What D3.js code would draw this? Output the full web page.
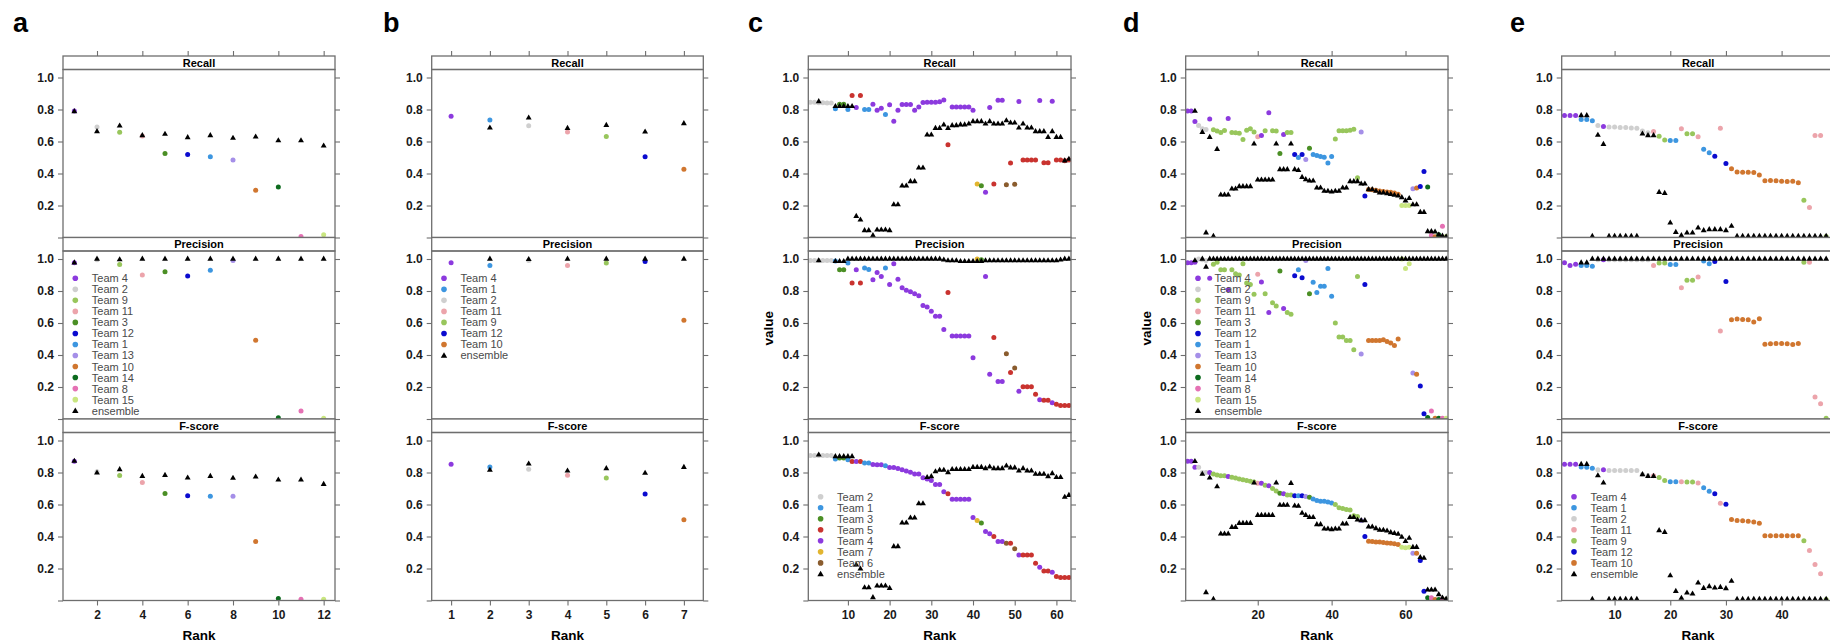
<!DOCTYPE html>
<html>
<head>
<meta charset="utf-8">
<script src="https://cdn.jsdelivr.net/npm/d3@7"></script>
<style>
  body { margin: 0; background: #fff; }
  text { font-family: "Liberation Sans", Arial, Helvetica, sans-serif; }
</style>
</head>
<body>
<script>
// ---- panel a ----
var aTeam = [4, 2, 9, 11, 3, 12, 1, 13, 10, 14, 8, 15]
var aRecall = [0.79, 0.69, 0.658, 0.635, 0.525, 0.519, 0.504, 0.485, 0.296, 0.315, 0.006, 0.017]
var aPrecision = [0.977, 0.995, 0.965, 0.90, 0.921, 0.894, 0.929, 0.99, 0.492, 0.008, 0.05, 0.004]
var aFscore = [0.871, 0.805, 0.781, 0.7375, 0.669, 0.654, 0.652, 0.652, 0.369, 0.0125, 0.008, 0.008]
var aEnsRecall = [0.7875, 0.6625, 0.698, 0.6375, 0.646, 0.625, 0.6375, 0.621, 0.629, 0.606, 0.606, 0.573]
var aEnsPrecision = [0.977, 1, 0.996, 1, 1, 1, 1, 1, 1, 1, 1, 1]
var aEnsFscore = [0.871, 0.798, 0.819, 0.777, 0.783, 0.767, 0.777, 0.765, 0.773, 0.754, 0.754, 0.727]
var aLegend = [4, 2, 9, 11, 3, 12, 1, 13, 10, 14, 8, 15]
var aTicks = [2, 4, 6, 8, 10, 12]

// ---- panel b ----
var bTeam = [4, 1, 2, 11, 9, 12, 10]
var bRecall = [0.758, 0.735, 0.698, 0.66, 0.631, 0.504, 0.427]
var bPrecision = [0.977, 0.96, 0.99, 0.96, 0.975, 0.985, 0.617]
var bFscore = [0.852, 0.835, 0.821, 0.783, 0.765, 0.665, 0.504]
var bEnsRecall = [null, 0.685, 0.748, 0.683, 0.702, 0.66, 0.7125]
var bEnsPrecision = [null, 1, 0.998, 1, 1, 1, 1]
var bEnsFscore = [null, 0.815, 0.854, 0.81, 0.825, 0.796, 0.833]
var bLegend = [4, 1, 2, 11, 9, 12, 10]
var bTicks = [1, 2, 3, 4, 5, 6, 7]

// ---- panel c ----
var cTeam = [2, 2, 2, 2, 2, 2, 1, 3, 3, 1, 5, 4, 5, 1, 1, 4, 4, 4, 1, 4,
  4, 4, 4, 4, 4, 4, 4, 4, 4, 4, 4, 4, 4, 5, 4, 4, 4, 4, 4, 4,
  7, 3, 4, 4, 5, 4, 4, 6, 5, 6, 4, 5, 5, 5, 5, 4, 5, 5, 4, 5,
  5, 5, 5]
var cRecall = [0.845, 0.845, 0.842, 0.842, 0.84, 0.84, 0.805, 0.833, 0.833, 0.80,
  0.888, 0.813, 0.888, 0.80, 0.80, 0.833, 0.796, 0.808, 0.769, 0.829,
  0.727, 0.796, 0.831, 0.831, 0.831, 0.796, 0.815, 0.844, 0.846, 0.846,
  0.846, 0.848, 0.86, 0.579, 0.815, 0.815, 0.815, 0.815, 0.815, 0.796,
  0.335, 0.323, 0.283, 0.813, 0.335, 0.858, 0.858, 0.329, 0.465, 0.333,
  0.85, 0.485, 0.485, 0.485, 0.485, 0.856, 0.467, 0.467, 0.852, 0.485,
  0.485, 0.479, 0.485]
var cPrecision = [0.99, 0.99, 0.99, 0.99, 0.99, 0.99, 0.988, 0.933, 0.933, 0.975,
  0.85, 0.933, 0.85, 0.944, 0.935, 0.87, 0.915, 0.89, 0.944, 0.84,
  0.97, 0.873, 0.82, 0.804, 0.796, 0.783, 0.77, 0.71, 0.70, 0.673,
  0.642, 0.642, 0.56, 0.79, 0.519, 0.519, 0.519, 0.519, 0.519, 0.383,
  1.0, 0.995, 0.89, 0.279, 0.51, 0.235, 0.235, 0.408, 0.29, 0.319,
  0.173, 0.202, 0.202, 0.202, 0.154, 0.121, 0.117, 0.117, 0.102, 0.092,
  0.085, 0.085, 0.085]
var cFscore = [0.906, 0.906, 0.906, 0.906, 0.906, 0.906, 0.885, 0.89, 0.89, 0.879,
  0.869, 0.869, 0.869, 0.86, 0.86, 0.85, 0.848, 0.848, 0.842, 0.831,
  0.831, 0.825, 0.817, 0.81, 0.802, 0.79, 0.79, 0.767, 0.76, 0.75,
  0.725, 0.725, 0.679, 0.667, 0.633, 0.633, 0.633, 0.633, 0.633, 0.519,
  0.50, 0.485, 0.431, 0.417, 0.40, 0.369, 0.369, 0.358, 0.358, 0.323,
  0.285, 0.285, 0.285, 0.285, 0.233, 0.208, 0.185, 0.185, 0.177, 0.15,
  0.144, 0.144, 0.144]
var cEnsRecall = [null, null, 0.85, null, null, null, 0.82, 0.82, 0.82, 0.82,
  0.82, 0.133, 0.11, 0.044, 0.044, 0.0125, 0.048, 0.048, 0.048, 0.044,
  0.206, 0.206, 0.323, 0.323, 0.35, 0.35, 0.435, 0.435, 0.642, 0.642,
  0.683, 0.683, 0.704, 0.683, 0.70, 0.70, 0.705, 0.705, 0.71, 0.725,
  0.725, 0.725, 0.71, 0.725, 0.71, 0.71, 0.71, 0.731, 0.717, 0.717,
  0.685, 0.71, 0.685, 0.685, 0.6625, 0.6625, 0.6625, 0.627, 0.6625, 0.627,
  0.627, 0.48, 0.49]
var cEnsPrecision = [null, null, 0.99, null, null, null, 0.985, 0.985, 0.985, 1,
  1, 1, 1, 1, 1, 1, 1, 1, 1, 1,
  1, 1, 1, 1, 1, 1, 1, 1, 1, 1,
  1, 1, 0.995, 0.99, 0.99, 0.99, 0.985, 0.985, 0.985, 0.985,
  0.985, 0.985, 0.99, 0.99, 0.99, 0.99, 0.99, 0.99, 0.99, 0.99,
  0.99, 0.99, 0.99, 0.99, 0.99, 0.99, 0.99, 0.99, 0.99, 0.99,
  0.995, 1, 1]
var cEnsFscore = [null, null, 0.91, null, null, null, 0.90, 0.90, 0.90, 0.90,
  0.90, 0.223, 0.198, 0.081, 0.081, 0.019, 0.092, 0.092, 0.092, 0.077,
  0.3375, 0.3375, 0.485, 0.485, 0.517, 0.517, 0.606, 0.606, 0.77, 0.775,
  0.806, 0.815, 0.815, 0.80, 0.82, 0.82, 0.82, 0.82, 0.82, 0.833,
  0.833, 0.833, 0.825, 0.835, 0.825, 0.825, 0.825, 0.842, 0.83, 0.83,
  0.81, 0.825, 0.81, 0.81, 0.79, 0.79, 0.79, 0.775, 0.794, 0.77,
  0.77, 0.646, 0.658]
var cLegend = [2, 1, 3, 5, 4, 7, 6]
var cTicks = [10, 20, 30, 40, 50, 60]

// ---- panel d ----
var dTeam = [4, 4, 4, 2, 2, 2, 4, 9, 9, 9, 9, 4, 9, 9, 9, 9, 9, 9, 9, 11,
  4, 9, 4, 9, 9, 3, 4, 9, 9, 12, 1, 12, 13, 3, 1, 1, 1, 1, 1, 1,
  9, 9, 9, 9, 9, 9, 9, 13, 12, 10, 10, 10, 10, 10, 10, 10, 10, 10, 15, 15,
  15, 13, 10, 12, 12, 14, 8, 10, 14, 8, 15]
var dRecall = [0.79, 0.79, 0.725, 0.70, 0.68, 0.675, 0.74, 0.673, 0.665, 0.657,
  0.669, 0.744, 0.657, 0.654, 0.652, 0.6125, 0.67, 0.68, 0.66, 0.629,
  0.6375, 0.667, 0.779, 0.667, 0.665, 0.525, 0.644, 0.657, 0.657, 0.519,
  0.50, 0.519, 0.4875, 0.558, 0.519, 0.5125, 0.506, 0.502, 0.465, 0.506,
  0.615, 0.667, 0.667, 0.667, 0.67, 0.677, 0.373, 0.66, 0.26, 0.30,
  0.298, 0.295, 0.29, 0.288, 0.285, 0.283, 0.278, 0.27, 0.20, 0.20,
  0.20, 0.304, 0.31, 0.319, 0.4125, 0.315, 0.0125, 0.005, 0.017, 0.071,
  0.006]
var dPrecision = [0.977, 0.977, 0.98, 1, 0.995, 0.99, 0.88, 0.967, 0.98, 0.933,
  0.933, 0.808, 0.933, 0.908, 0.90, 0.97, 0.85, 0.84, 0.78, 0.904,
  0.856, 0.783, 0.665, 0.727, 0.706, 0.925, 0.69, 0.665, 0.654, 0.896,
  0.933, 0.883, 0.99, 0.783, 0.854, 0.79, 0.829, 0.829, 0.94, 0.767,
  0.60, 0.5125, 0.5125, 0.49, 0.49, 0.433, 0.89, 0.406, 0.84, 0.49,
  0.49, 0.49, 0.49, 0.495, 0.485, 0.475, 0.46, 0.5, 1.0, 0.94,
  0.97, 0.2875, 0.28, 0.206, 0.033, 0.01, 0.05, 0.004, 0.004, 0.004,
  0.004]
var dFscore = [0.87, 0.87, 0.833, 0.833, 0.80, 0.80, 0.80, 0.79, 0.785, 0.78,
  0.78, 0.775, 0.77, 0.765, 0.76, 0.755, 0.75, 0.745, 0.74, 0.733,
  0.733, 0.72, 0.717, 0.70, 0.685, 0.67, 0.667, 0.66, 0.66, 0.654,
  0.654, 0.654, 0.65, 0.645, 0.635, 0.625, 0.62, 0.62, 0.615, 0.61,
  0.60, 0.58, 0.575, 0.568, 0.565, 0.53, 0.525, 0.50, 0.40, 0.37,
  0.368, 0.366, 0.365, 0.363, 0.36, 0.358, 0.355, 0.35, 0.333, 0.33,
  0.333, 0.296, 0.296, 0.25, 0.058, 0.017, 0.017, 0.006, 0.006, 0.01,
  0.006]
var dEnsRecall = [null, null, 0.79, null, 0.658, 0.03, 0.627, 0.008, 0.552, 0.267,
  0.267, 0.267, 0.304, 0.304, 0.319, 0.319, 0.319, 0.319, 0.585, 0.36,
  0.36, 0.36, 0.36, 0.36, 0.585, 0.425, 0.425, 0.425, 0.585, 0.425,
  0.42, 0.377, 0.3625, 0.354, 0.354, 0.31, 0.31, 0.29, 0.29, 0.285,
  0.29, 0.29, 0.31, 0.31, 0.35, 0.35, 0.35, 0.335, 0.335, 0.30,
  0.30, 0.29, 0.28, 0.28, 0.275, 0.27, 0.265, 0.26, 0.25, 0.23,
  0.245, 0.206, 0.206, 0.158, 0.158, 0.0375, 0.0375, 0.035, 0.017, 0.01,
  0.005]
var dEnsPrecision = [null, null, 0.99, null, 1, 0.95, 1, 1, 1, 1,
  1, 1, 1, 1, 1, 1, 1, 1, 1, 1,
  1, 1, 1, 1, 1, 1, 1, 1, 1, 1,
  1, 1, 1, 1, 1, 1, 1, 1, 1, 1,
  1, 1, 1, 1, 1, 1, 1, 1, 1, 1,
  1, 1, 1, 1, 1, 1, 1, 1, 1, 1,
  1, 1, 1, 1, 1, 1, 1, 1, 1, 1,
  1]
var dEnsFscore = [null, null, 0.87, null, 0.79, 0.05, 0.767, 0.008, 0.712, 0.417,
  0.417, 0.417, 0.458, 0.458, 0.483, 0.483, 0.483, 0.483, 0.735, 0.533,
  0.533, 0.533, 0.533, 0.533, 0.735, 0.596, 0.596, 0.596, 0.733, 0.592,
  0.59, 0.546, 0.533, 0.52, 0.52, 0.475, 0.475, 0.448, 0.448, 0.444,
  0.448, 0.448, 0.479, 0.479, 0.52, 0.52, 0.504, 0.50, 0.50, 0.46,
  0.46, 0.45, 0.44, 0.44, 0.435, 0.425, 0.42, 0.415, 0.396, 0.37,
  0.39, 0.333, 0.333, 0.27, 0.265, 0.067, 0.067, 0.067, 0.0375, 0.017,
  0.01]
var dLegend = [4, 2, 9, 11, 3, 12, 1, 13, 10, 14, 8, 15]
var dTicks = [20, 40, 60]

// ---- panel e ----
var eTeam = [4, 4, 4, 1, 1, 1, 2, 4, 2, 2, 2, 2, 2, 2, 2, 2, 11, 9, 9, 1,
  1, 11, 9, 9, 11, 1, 1, 12, 11, 12, 10, 10, 10, 10, 10, 10, 10, 10, 10, 10,
  10, 10, 10, 9, 11, 11, 11, 9]
var eRecall = [0.7625, 0.7625, 0.7625, 0.7375, 0.7375, 0.73, 0.70, 0.694, 0.69, 0.69,
  0.688, 0.688, 0.685, 0.683, 0.665, 0.654, 0.6625, 0.633, 0.61, 0.606,
  0.606, 0.68, 0.648, 0.648, 0.629, 0.552, 0.529, 0.508, 0.683, 0.4625,
  0.429, 0.41, 0.408, 0.408, 0.406, 0.39, 0.354, 0.356, 0.354, 0.352,
  0.35, 0.352, 0.342, 0.233, 0.1875, 0.6375, 0.6375, 0.006]
var ePrecision = [0.977, 0.96, 0.967, 0.96, 0.96, 0.954, 0.995, 0.996, 0.996, 0.996,
  0.996, 0.996, 0.996, 0.996, 0.996, 0.996, 0.96, 0.975, 0.975, 0.965,
  0.965, 0.82, 0.867, 0.867, 0.8875, 0.9875, 0.97, 0.985, 0.55, 0.86,
  0.62, 0.625, 0.622, 0.62, 0.606, 0.627, 0.467, 0.47, 0.472, 0.472,
  0.47, 0.465, 0.472, 0.98, 0.98, 0.1375, 0.096, 0.004]
var eFscore = [0.852, 0.852, 0.852, 0.835, 0.833, 0.827, 0.817, 0.817, 0.8125, 0.8125,
  0.8125, 0.8125, 0.8125, 0.8125, 0.7875, 0.78, 0.78, 0.769, 0.75, 0.742,
  0.742, 0.742, 0.74, 0.74, 0.735, 0.704, 0.683, 0.667, 0.608, 0.602,
  0.506, 0.50, 0.498, 0.495, 0.49, 0.483, 0.404, 0.404, 0.404, 0.404,
  0.404, 0.404, 0.404, 0.373, 0.3125, 0.225, 0.167, 0.006]
var eEnsRecall = [null, null, null, 0.7625, 0.7625, 0.008, 0.64, 0.583, 0.008, 0.008,
  0.008, 0.008, 0.008, 0.008, 0.648, 0.6375, 0.6375, 0.283, 0.277, 0.092,
  0.033, 0.0125, 0.029, 0.029, 0.06, 0.044, 0.05, 0.05, 0.05, 0.044,
  0.071, 0.008, 0.008, 0.008, 0.008, 0.008, 0.008, 0.008, 0.008, 0.008,
  0.008, 0.008, 0.008, 0.008, 0.008, 0.008, 0.008, 0.008]
var eEnsPrecision = [null, null, null, 0.977, 0.977, 1, 1, 1, 1, 1,
  1, 1, 1, 1, 1, 1, 1, 1, 1, 1,
  1, 1, 1, 1, 1, 1, 1, 1, 1, 1,
  1, 1, 1, 1, 1, 1, 1, 1, 1, 1,
  1, 1, 1, 1, 1, 1, 1, 1]
var eEnsFscore = [null, null, null, 0.852, 0.852, 0.008, 0.781, 0.735, 0.008, 0.008,
  0.008, 0.008, 0.008, 0.008, 0.7875, 0.777, 0.777, 0.4375, 0.427, 0.156,
  0.058, 0.0146, 0.048, 0.042, 0.11, 0.077, 0.0875, 0.079, 0.083, 0.075,
  0.121, 0.008, 0.008, 0.008, 0.008, 0.008, 0.008, 0.008, 0.008, 0.008,
  0.008, 0.008, 0.008, 0.008, 0.008, 0.008, 0.008, 0.008]
var eLegend = [4, 1, 2, 11, 9, 12, 10]
var eTicks = [10, 20, 30, 40]

var metricNames = ['Recall', 'Precision', 'F-score']
var yTicks = [0, 0.2, 0.4, 0.6, 0.8, 1.0]

// colours per team
var teamColor = {
  1: '#3d96e0', 2: '#cfcfcf', 3: '#4b8f25', 4: '#8c3ade', 5: '#c9332f',
  6: '#8a5c2e', 7: '#e2b52f', 8: '#e571b4', 9: '#98c65c', 10: '#d0762f',
  11: '#eca4ab', 12: '#0b0bcf', 13: '#a58fe8', 14: '#0d6b1e', 15: '#c9e680'
}

// layout
var top0 = 56, stripH = 13.5, plotH = 168, blockH = stripH + plotH
var frameCol = '#6e6e6e'

var panels = [
  { id: 'a', left: 63, right: 335, nMax: 12.5, letterX: 13, value: false,
    team: aTeam, series: [[aRecall, aEnsRecall], [aPrecision, aEnsPrecision], [aFscore, aEnsFscore]],
    ticks: aTicks, legend: aLegend, legendRow: 1, legendY: 278.3 },
  { id: 'b', left: 431.7, right: 703.3, nMax: 7.5, letterX: 383, value: false,
    team: bTeam, series: [[bRecall, bEnsRecall], [bPrecision, bEnsPrecision], [bFscore, bEnsFscore]],
    ticks: bTicks, legend: bLegend, legendRow: 1, legendY: 278.3 },
  { id: 'c', left: 808.3, right: 1071, nMax: 63.5, letterX: 748, value: true,
    team: cTeam, series: [[cRecall, cEnsRecall], [cPrecision, cEnsPrecision], [cFscore, cEnsFscore]],
    ticks: cTicks, legend: cLegend, legendRow: 2, legendY: 496.7 },
  { id: 'd', left: 1185.7, right: 1448, nMax: 71.5, letterX: 1123, value: true,
    team: dTeam, series: [[dRecall, dEnsRecall], [dPrecision, dEnsPrecision], [dFscore, dEnsFscore]],
    ticks: dTicks, legend: dLegend, legendRow: 1, legendY: 278.3 },
  { id: 'e', left: 1561.7, right: 1834.5, nMax: 49.5, letterX: 1510, value: false,
    team: eTeam, series: [[eRecall, eEnsRecall], [ePrecision, eEnsPrecision], [eFscore, eEnsFscore]],
    ticks: eTicks, legend: eLegend, legendRow: 2, legendY: 496.7 }
]

var svg = d3.select('body').append('svg')
  .attr('width', 1830)
  .attr('height', 643)
var defs = svg.append('defs')

var tri = d3.symbol().type(d3.symbolTriangle).size(15)
var triLegend = d3.symbol().type(d3.symbolTriangle).size(18)

function styleAxis (sel) {
  sel.select('.domain').remove()
  sel.selectAll('.tick line').attr('stroke', frameCol).attr('stroke-width', 1.1)
  sel.selectAll('.tick text')
    .attr('fill', '#1a1a1a')
    .style('font-family', '"Liberation Sans", Arial, sans-serif')
    .style('font-size', '12px')
    .style('font-weight', 'bold')
}

function drawPanel (p) {
  var x = d3.scaleLinear().domain([0.5, p.nMax]).range([p.left, p.right])
  var g = svg.append('g')

  // panel letter
  svg.append('text')
    .attr('x', p.letterX).attr('y', 32)
    .style('font-size', '27px').style('font-weight', 'bold')
    .text(p.id)

  p.series.forEach(function (s, i) {
    var sTop = top0 + i * blockH
    var pTop = sTop + stripH
    var pBot = pTop + plotH
    var y = d3.scaleLinear().domain([0, 1.05]).range([pBot, pTop])

    var cid = 'clip-' + p.id + i
    defs.append('clipPath').attr('id', cid)
      .append('rect')
      .attr('x', p.left).attr('y', pTop)
      .attr('width', p.right - p.left).attr('height', plotH)

    // left axis with labels
    g.append('g')
      .attr('transform', 'translate(' + p.left + ',0)')
      .call(d3.axisLeft(y).tickValues(yTicks).tickSize(5).tickPadding(4)
        .tickFormat(function (d) { return d === 0 ? '' : d3.format('.1f')(d) }))
      .call(styleAxis)
    // right axis ticks only
    g.append('g')
      .attr('transform', 'translate(' + p.right + ',0)')
      .call(d3.axisRight(y).tickValues(yTicks).tickSize(5).tickFormat(''))
      .call(styleAxis)

    if (i === 0) {
      g.append('g')
        .attr('transform', 'translate(0,' + sTop + ')')
        .call(d3.axisTop(x).tickValues(p.ticks).tickSize(5).tickFormat(''))
        .call(styleAxis)
    }
    if (i === 2) {
      g.append('g')
        .attr('transform', 'translate(0,' + pBot + ')')
        .call(d3.axisBottom(x).tickValues(p.ticks).tickSize(5).tickPadding(5)
          .tickFormat(d3.format('d')))
        .call(styleAxis)
    }

    // team points, then ensemble on top
    var pts = g.append('g').attr('clip-path', 'url(#' + cid + ')')
    var teamData = s[0].map(function (v, k) { return { rank: k + 1, v: v, t: p.team[k] } })
    pts.selectAll('circle')
      .data(teamData)
      .enter().append('circle')
      .attr('cx', function (d) { return x(d.rank) })
      .attr('cy', function (d) { return y(d.v) })
      .attr('r', 2.5)
      .attr('fill', function (d) { return teamColor[d.t] })

    var ensData = s[1].map(function (v, k) { return { rank: k + 1, v: v } })
      .filter(function (d) { return d.v !== null })
    pts.selectAll('path.ens')
      .data(ensData)
      .enter().append('path')
      .attr('class', 'ens')
      .attr('d', tri)
      .attr('fill', '#000')
      .attr('transform', function (d) { return 'translate(' + x(d.rank) + ',' + y(d.v) + ')' })

    // strip and frame
    g.append('rect')
      .attr('x', p.left).attr('y', sTop)
      .attr('width', p.right - p.left).attr('height', stripH)
      .attr('fill', '#fff').attr('stroke', frameCol).attr('stroke-width', 1.3)
    g.append('text')
      .attr('x', (p.left + p.right) / 2)
      .attr('y', sTop + stripH / 2)
      .attr('dy', '0.36em')
      .attr('text-anchor', 'middle')
      .style('font-size', '11px').style('font-weight', 'bold')
      .text(metricNames[i])
    g.append('rect')
      .attr('x', p.left).attr('y', pTop)
      .attr('width', p.right - p.left).attr('height', plotH)
      .attr('fill', 'none').attr('stroke', frameCol).attr('stroke-width', 1.3)

    // legend
    if (i === p.legendRow) {
      var lg = g.append('g')
      var items = p.legend.concat(['ensemble'])
      items.forEach(function (t, k) {
        var ly = p.legendY + k * 11.03
        if (t === 'ensemble') {
          lg.append('path').attr('d', triLegend).attr('fill', '#000')
            .attr('transform', 'translate(' + (p.left + 12.3) + ',' + (ly + 0.5) + ')')
        } else {
          lg.append('circle').attr('cx', p.left + 12.3).attr('cy', ly).attr('r', 2.8)
            .attr('fill', teamColor[t])
        }
        lg.append('text')
          .attr('x', p.left + 28.8).attr('y', ly)
          .attr('dy', '0.36em')
          .attr('fill', '#4a4a4a')
          .style('font-size', '11px')
          .text(t === 'ensemble' ? 'ensemble' : 'Team ' + t)
      })
    }
  })

  // x label
  svg.append('text')
    .attr('x', (p.left + p.right) / 2).attr('y', 640)
    .attr('text-anchor', 'middle')
    .style('font-size', '13.5px').style('font-weight', 'bold')
    .text('Rank')

  if (p.value) {
    svg.append('text')
      .attr('transform', 'translate(' + (p.left - 40) + ',' + (top0 + 1.5 * blockH) + ') rotate(-90)')
      .attr('text-anchor', 'middle')
      .attr('dy', '0.36em')
      .style('font-size', '13.5px').style('font-weight', 'bold')
      .text('value')
  }
}

panels.forEach(drawPanel)
</script>
</body>
</html>
